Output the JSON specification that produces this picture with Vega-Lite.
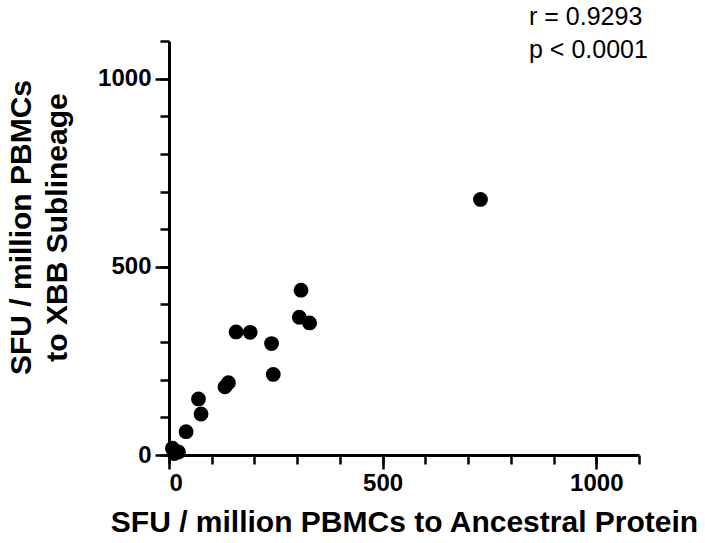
{
  "$schema": "https://vega.github.io/schema/vega-lite/v6.json",
  "autosize": {"type": "none"},
  "padding": {"left": 169, "top": 41, "right": 66, "bottom": 88},
  "width": 470,
  "height": 414,
  "background": "white",
  "title": {
    "text": ["r = 0.9293", "p < 0.0001"],
    "anchor": "start",
    "frame": "group",
    "align": "left",
    "dx": 360,
    "offset": 0,
    "dy": 23,
    "font": "Liberation Sans",
    "fontSize": 25,
    "fontWeight": "normal",
    "lineHeight": 33,
    "color": "black"
  },
  "config": {
    "view": {"stroke": null},
    "axis": {
      "grid": false,
      "format": "d",
      "domainColor": "black",
      "domainWidth": 3,
      "tickColor": "black",
      "tickWidth": 2.5,
      "labelFont": "Liberation Sans",
      "labelFontWeight": "bold",
      "labelFontSize": 24,
      "labelColor": "black",
      "titleFont": "Liberation Sans",
      "titleFontWeight": "bold",
      "titleFontSize": 30,
      "titleColor": "black"
    }
  },
  "data": {
    "values": [
      {"ancestral": 8, "xbb": 18},
      {"ancestral": 22, "xbb": 8},
      {"ancestral": 12, "xbb": 4},
      {"ancestral": 40, "xbb": 62},
      {"ancestral": 69, "xbb": 149},
      {"ancestral": 75, "xbb": 109},
      {"ancestral": 131, "xbb": 181},
      {"ancestral": 139, "xbb": 192},
      {"ancestral": 157, "xbb": 327},
      {"ancestral": 190, "xbb": 326},
      {"ancestral": 240, "xbb": 296},
      {"ancestral": 244, "xbb": 214},
      {"ancestral": 305, "xbb": 366},
      {"ancestral": 309, "xbb": 438},
      {"ancestral": 329, "xbb": 351},
      {"ancestral": 729, "xbb": 679}
    ]
  },
  "layer": [
    {
      "mark": {"type": "point", "filled": true, "shape": "circle", "size": 220, "color": "black", "opacity": 1},
      "encoding": {
        "x": {
          "field": "ancestral", "type": "quantitative",
          "scale": {"domain": [0, 1100], "nice": false, "zero": false},
          "axis": {
            "orient": "bottom",
            "values": [0, 500, 1000],
            "tickSize": 14,
            "labelPadding": 2,
            "title": "SFU / million PBMCs to Ancestral Protein",
            "titleBaseline": "alphabetic",
            "titleY": 76
          }
        },
        "y": {
          "field": "xbb", "type": "quantitative",
          "scale": {"domain": [0, 1100], "nice": false, "zero": false},
          "axis": {
            "orient": "left",
            "values": [0, 500, 1000],
            "tickSize": 14,
            "labelPadding": 4,
            "title": ["SFU / million PBMCs", "to XBB Sublineage"],
            "titleLineHeight": 36,
            "titleX": -133,
            "titleY": 186
          }
        }
      }
    },
    {
      "mark": {"type": "point", "opacity": 0},
      "encoding": {
        "x": {
          "field": "ancestral", "type": "quantitative",
          "scale": {"domain": [0, 1100], "nice": false, "zero": false},
          "axis": {
            "orient": "bottom",
            "values": [0, 100, 200, 300, 400, 500, 600, 700, 800, 900, 1000, 1100],
            "tickSize": 9,
            "labels": false,
            "domain": false,
            "title": null
          }
        },
        "y": {
          "field": "xbb", "type": "quantitative",
          "scale": {"domain": [0, 1100], "nice": false, "zero": false},
          "axis": {
            "orient": "left",
            "values": [0, 100, 200, 300, 400, 500, 600, 700, 800, 900, 1000, 1100],
            "tickSize": 9,
            "labels": false,
            "domain": false,
            "title": null
          }
        }
      }
    }
  ],
  "resolve": {"axis": {"x": "independent", "y": "independent"}}
}
